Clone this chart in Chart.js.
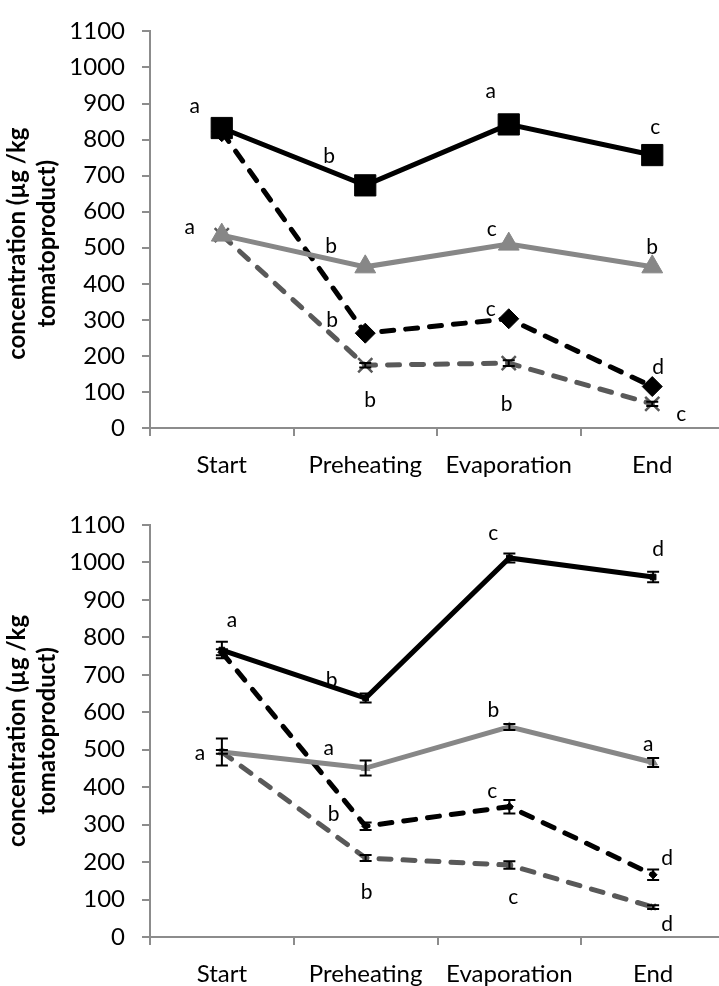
<!DOCTYPE html>
<html>
<head>
<meta charset="utf-8">
<script src="https://cdn.jsdelivr.net/npm/chart.js@4.4.1/dist/chart.umd.min.js"></script>
<style>
  html, body { margin: 0; padding: 0; background: #fff; overflow: hidden; width: 719px; height: 986px; }
  canvas { position: absolute; left: 0; }
  #topChart { top: 0; }
  #bottomChart { top: 490px; }
</style>
</head>
<body>
<canvas id="topChart" width="740" height="490"></canvas>
<canvas id="bottomChart" width="740" height="496"></canvas>
<script>
// categories + ticks
const categories = ['Start', 'Preheating', 'Evaporation', 'End'];
const yTickValues = [0, 100, 200, 300, 400, 500, 600, 700, 800, 900, 1000, 1100];
const yTitleLines = ['concentration (µg /kg', 'tomatoproduct)'];

// top panel
const topSolidBlack = [832, 673, 842, 757];
const topSolidGray = [535, 447, 510, 447];
const topDashBlack = [822, 263, 303, 115];
const topDashGray = [535, 174, 180, 67];
const topErrSolidBlack = [22, 0, 0, 0];
const topErrSolidGray = [0, 0, 0, 0];
const topErrDashBlack = [0, 0, 6, 0];
const topErrDashGray = [0, 6, 8, 6];
const topLetSolidBlack = ['a', 'b', 'a', 'c'];
const topLetSolidGray = ['a', 'b', 'c', 'b'];
const topLetDashBlack = ['', 'b', 'c', 'd'];
const topLetDashGray = ['', 'b', 'b', 'c'];

// bottom panel
const botSolidBlack = [766, 638, 1012, 961];
const botSolidGray = [494, 451, 561, 466];
const botDashBlack = [760, 296, 348, 166];
const botDashGray = [494, 211, 192, 80];
const botErrSolidBlack = [22, 12, 12, 14];
const botErrSolidGray = [36, 20, 8, 12];
const botErrDashBlack = [8, 10, 18, 14];
const botErrDashGray = [5, 8, 10, 5];
const botLetSolidBlack = ['a', 'b', 'c', 'd'];
const botLetSolidGray = ['a', 'a', 'b', 'a'];
const botLetDashBlack = ['', 'b', 'c', 'd'];
const botLetDashGray = ['', 'b', 'c', 'd'];

// where each letter sits relative to its point (px)
const topLetterShift = [
  [[-27, -22], [-36, -29], [-18, -33], [3, -28]],
  [[-32, -8], [-34, -21], [-17, -15], [0, -20]],
  [[0, 0], [-33, -13], [-18, -10], [6, -19]],
  [[0, 0], [5, 35], [-2, 41], [29, 10]]
];
const botLetterShift = [
  [[10, -30], [-34, -18], [-16, -25], [5, -28]],
  [[-22, 1], [-37, -20], [-16, -17], [-5, -18]],
  [[0, 0], [-32, -12], [-17, -15], [14, -17]],
  [[0, 0], [1, 34], [4, 32], [14, 17]]
];

const FONT = 'Lato';
const AXIS_GRAY = '#8c8c8c';

const yTitlePlugin = {
  id: 'yTitle',
  afterDraw(chart, args, opts) {
    const ctx = chart.ctx, a = chart.chartArea;
    ctx.save();
    ctx.translate(opts.x, (a.top + a.bottom) / 2 + opts.shift);
    ctx.rotate(-Math.PI / 2);
    ctx.font = 'bold 24px ' + FONT;
    ctx.fillStyle = '#000';
    ctx.textAlign = 'center';
    ctx.textBaseline = 'middle';
    yTitleLines.forEach((t, i) => ctx.fillText(t, 0, i * 30));
    ctx.restore();
  }
};

const errorBarPlugin = {
  id: 'errBars',
  afterDatasetsDraw(chart) {
    const ctx = chart.ctx, ys = chart.scales.y;
    ctx.save();
    ctx.strokeStyle = '#000';
    ctx.lineWidth = 2;
    chart.data.datasets.forEach((ds, i) => {
      const meta = chart.getDatasetMeta(i);
      ds.errors.forEach((e, j) => {
        if (!e) return;
        const x = meta.data[j].x;
        const y1 = ys.getPixelForValue(ds.data[j] + e);
        const y2 = ys.getPixelForValue(ds.data[j] - e);
        ctx.beginPath();
        ctx.moveTo(x, y1); ctx.lineTo(x, y2);
        ctx.moveTo(x - 6, y1); ctx.lineTo(x + 6, y1);
        ctx.moveTo(x - 6, y2); ctx.lineTo(x + 6, y2);
        ctx.stroke();
      });
    });
    ctx.restore();
  }
};

const letterPlugin = {
  id: 'letters',
  afterDraw(chart, args, opts) {
    const ctx = chart.ctx;
    ctx.save();
    ctx.font = '21px ' + FONT;
    ctx.fillStyle = '#000';
    ctx.textAlign = 'center';
    ctx.textBaseline = 'middle';
    chart.data.datasets.forEach((ds, i) => {
      const meta = chart.getDatasetMeta(i);
      ds.letters.forEach((l, j) => {
        if (!l) return;
        const s = opts.shift[i][j];
        ctx.fillText(l, meta.data[j].x + s[0], meta.data[j].y + s[1]);
      });
    });
    ctx.restore();
  }
};

function makeChart(id, series, errs, lets, shift, markerR, padTop, xAxisH, titleShift) {
  const styles = [
    { color: '#000', dash: [], point: 'rect', r: markerR[0] },
    { color: '#878787', dash: [], point: 'triangle', r: markerR[1] },
    { color: '#000', dash: [12, 12], point: 'rectRot', r: markerR[2] },
    { color: '#595959', dash: [12, 12], point: 'crossRot', r: markerR[3] }
  ];
  const datasets = series.map((vals, i) => ({
    data: vals,
    errors: errs[i],
    letters: lets[i],
    borderColor: styles[i].color,
    backgroundColor: styles[i].color,
    borderWidth: 5,
    borderDash: styles[i].dash,
    borderCapStyle: styles[i].dash.length ? 'round' : 'butt',
    pointStyle: styles[i].point,
    pointRadius: styles[i].r,
    pointBorderWidth: styles[i].point === 'crossRot' ? 2.5 : 1,
    pointBorderColor: styles[i].color,
    pointBackgroundColor: styles[i].color,
    tension: 0,
    fill: false
  }));

  return new Chart(document.getElementById(id), {
    type: 'line',
    data: { labels: categories, datasets },
    plugins: [yTitlePlugin, errorBarPlugin, letterPlugin],
    options: {
      responsive: false,
      animation: false,
      layout: { padding: { top: padTop, right: 15, left: 0, bottom: 0 } },
      plugins: {
        legend: { display: false },
        tooltip: { enabled: false },
        yTitle: { x: 17, shift: titleShift },
        letters: { shift }
      },
      scales: {
        x: {
          offset: true,
          grid: { offset: true, drawOnChartArea: false, drawTicks: true, tickLength: 8, color: AXIS_GRAY, lineWidth: 2 },
          border: { color: AXIS_GRAY, width: 2 },
          ticks: { color: '#000', font: { family: FONT, size: 24 }, padding: 15, maxRotation: 0 },
          afterFit(scale) { scale.height = xAxisH; }
        },
        y: {
          min: 0,
          max: 1100,
          afterBuildTicks(scale) { scale.ticks = yTickValues.map(v => ({ value: v })); },
          grid: { drawOnChartArea: false, drawTicks: true, tickLength: 8, color: AXIS_GRAY, lineWidth: 2 },
          border: { color: AXIS_GRAY, width: 2 },
          ticks: { color: '#000', font: { family: FONT, size: 24 }, padding: 17, callback: v => String(v) },
          afterFit(scale) { scale.width = 150; }
        }
      }
    }
  });
}

makeChart('topChart',
  [topSolidBlack, topSolidGray, topDashBlack, topDashGray],
  [topErrSolidBlack, topErrSolidGray, topErrDashBlack, topErrDashGray],
  [topLetSolidBlack, topLetSolidGray, topLetDashBlack, topLetDashGray],
  topLetterShift, [15, 12, 10, 10], 18, 62, 14);

makeChart('bottomChart',
  [botSolidBlack, botSolidGray, botDashBlack, botDashGray],
  [botErrSolidBlack, botErrSolidGray, botErrDashBlack, botErrDashGray],
  [botLetSolidBlack, botLetSolidGray, botLetDashBlack, botLetDashGray],
  botLetterShift, [4, 5, 4, 4], 35, 49, 0);
</script>
</body>
</html>
